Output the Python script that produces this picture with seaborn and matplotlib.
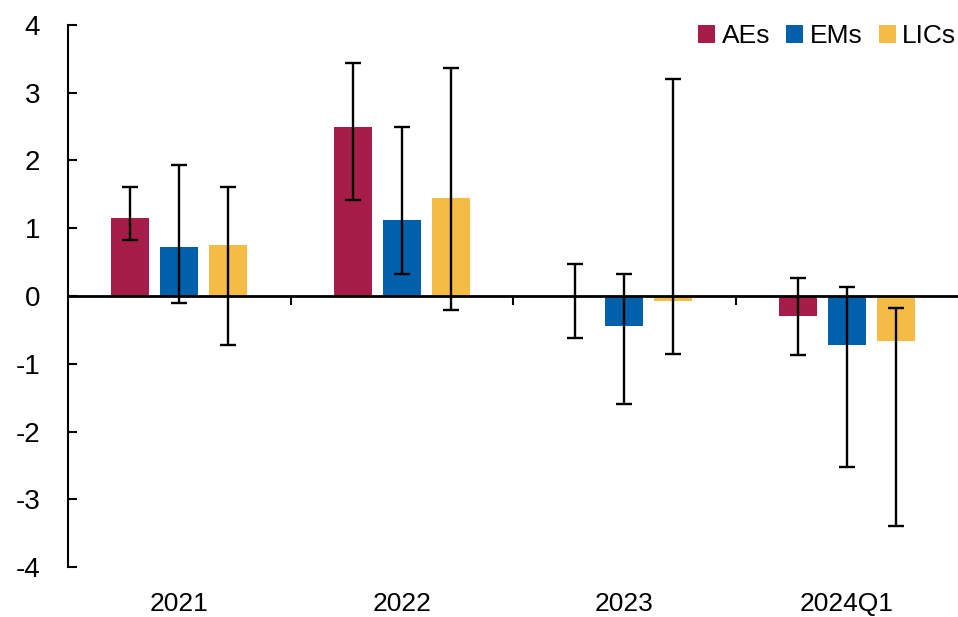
import numpy as np
import pandas as pd
import matplotlib
matplotlib.use("Agg")
import matplotlib.pyplot as plt
import seaborn as sns

categories = ["2021", "2022", "2023", "2024Q1"]
groups = ["AEs", "EMs", "LICs"]

aes = [1.15, 2.50, 0.00, -0.30]
aes_lo = [0.83, 1.42, -0.62, -0.87]
aes_hi = [1.61, 3.44, 0.47, 0.27]

ems = [0.73, 1.12, -0.44, -0.72]
ems_lo = [-0.10, 0.33, -1.60, -2.52]
ems_hi = [1.94, 2.50, 0.32, 0.13]

lics = [0.75, 1.45, -0.07, -0.66]
lics_lo = [-0.72, -0.20, -0.85, -3.40]
lics_hi = [1.61, 3.36, 3.20, -0.18]

colors = ["#A61D4A", "#0060AC", "#F4BB45"]

values = {"AEs": aes, "EMs": ems, "LICs": lics}
lows = {"AEs": aes_lo, "EMs": ems_lo, "LICs": lics_lo}
highs = {"AEs": aes_hi, "EMs": ems_hi, "LICs": lics_hi}

df = pd.DataFrame(
    [(c, g, values[g][i]) for g in groups for i, c in enumerate(categories)],
    columns=["period", "group", "value"],
)

sns.set_style("white")
plt.rcParams["font.family"] = ["Liberation Sans", "DejaVu Sans"]
plt.rcParams["axes.unicode_minus"] = False

fig = plt.figure(figsize=(9.58, 6.17), dpi=100)
ax = fig.add_axes([0.071, 0.081, 0.929, 0.8785])

sns.barplot(
    df, x="period", y="value", hue="group", order=categories, hue_order=groups,
    palette=colors, width=0.66, gap=0.23, saturation=1, errorbar=None,
    linewidth=0, ax=ax,
)

# asymmetric error bars placed on the bar centres
for g, cont in zip(groups, ax.containers):
    xs = [p.get_x() + p.get_width() / 2 for p in cont.patches]
    v = np.array(values[g])
    yerr = [v - np.array(lows[g]), np.array(highs[g]) - v]
    ax.errorbar(xs, v, yerr=yerr, fmt="none", ecolor="black",
                elinewidth=1.7, capsize=6, capthick=1.7, zorder=4)

ax.axhline(0, color="black", linewidth=2.0, zorder=3)

# short separators hanging below the zero line between groups
seps = np.arange(len(categories) - 1) + 0.5
ax.vlines(seps, -0.13, 0, color="black", linewidth=1.5, zorder=3)

ax.set_xlim(-0.5, 3.5)
ax.set_ylim(-4, 4)
ax.set_yticks(range(-4, 5))
ax.set_xlabel("")
ax.set_ylabel("")

for s in ["top", "right", "bottom"]:
    ax.spines[s].set_visible(False)
ax.spines["left"].set_linewidth(1.5)
ax.spines["left"].set_color("black")

ax.tick_params(axis="y", left=True, direction="in", length=6.5, width=1.5,
               pad=20, labelsize=20, colors="black")
ax.tick_params(axis="x", length=0, pad=18, labelsize=19, colors="black")

leg = ax.legend(loc="upper right", bbox_to_anchor=(1.025, 1.045), ncol=3,
                frameon=False, fontsize=19, handlelength=0.65,
                handleheight=0.65, handletextpad=0.25, columnspacing=0.6)
for t in leg.get_texts():
    t.set_color("black")

fig.savefig("out.png", dpi=100)
